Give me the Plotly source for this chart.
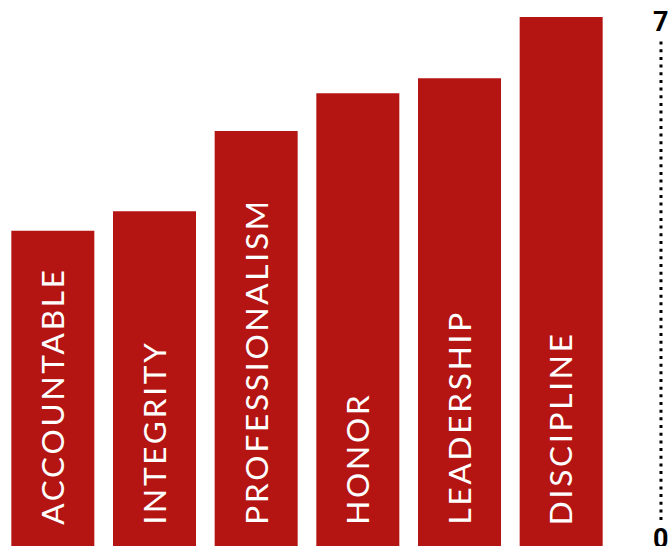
import plotly.graph_objects as go

categories = ["ACCOUNTABLE", "INTEGRITY", "PROFESSIONALISM", "HONOR", "LEADERSHIP", "DISCIPLINE"]
values = [4.17, 4.43, 5.49, 5.99, 6.19, 7.0]
axis_min = 0
axis_max = 7
tick_labels = ["0", "7"]

BAR_COLOR = "#B41412"

fig = go.Figure()
fig.add_trace(go.Bar(
    x=categories,
    y=values,
    marker=dict(color=BAR_COLOR, line=dict(width=0)),
    hoverinfo="skip",
))

annotations = []
for c in categories:
    annotations.append(dict(
        x=c, xref="x", y=0, yref="paper",
        text='<span style="letter-spacing:2.8px">' + c + '</span>',
        showarrow=False, textangle=-90,
        xanchor="center", yanchor="bottom", yshift=19, xshift=-1,
        font=dict(family="Lato, sans-serif", size=31.5, color="white", weight=400),
    ))

# right-side value axis
annotations.append(dict(
    x=1.0803, xref="paper", y=0.9905, yref="paper", text=tick_labels[1],
    showarrow=False, xanchor="center", yanchor="middle",
    font=dict(family="Roboto, sans-serif", size=27, color="black", weight="bold"),
))
annotations.append(dict(
    x=1.0803, xref="paper", y=0.014, yref="paper", text=tick_labels[0],
    showarrow=False, xanchor="center", yanchor="middle",
    font=dict(family="Roboto, sans-serif", size=27, color="black", weight="bold"),
))

fig.add_shape(
    type="line", xref="paper", yref="paper",
    x0=1.0803, x1=1.0803, y0=0.049, y1=0.962,
    line=dict(color="black", width=3, dash="3px,4.67px"),
)

fig.update_layout(
    width=671, height=546,
    margin=dict(l=2, r=59, t=17, b=0),
    paper_bgcolor="white", plot_bgcolor="white",
    bargap=0.1836,
    showlegend=False,
    xaxis=dict(visible=False, showgrid=False, zeroline=False),
    yaxis=dict(visible=False, range=[axis_min, axis_max], showgrid=False, zeroline=False),
    annotations=annotations,
)

fig.write_html("out.html")
